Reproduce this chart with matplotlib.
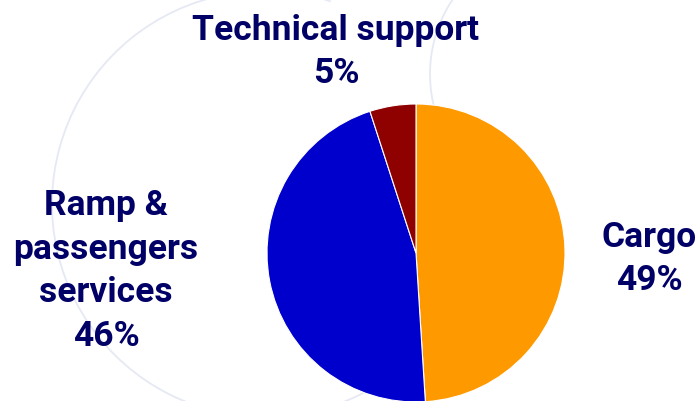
import matplotlib
matplotlib.use('Agg')
import matplotlib.pyplot as plt
from matplotlib import font_manager
from matplotlib.patches import Arc

# business split, share of revenue in percent
categories = ['Cargo', 'Ramp &\npassengers\nservices', 'Technical support']
shares = [49, 46, 5]
colors = ['#FF9900', '#0000CC', '#8F0000']

# bold face for the labels, whichever is installed
installed = {f.name for f in font_manager.fontManager.ttflist}
label_font, label_size = 'DejaVu Sans', 20
for name, size in [('Roboto', 25.5), ('Roboto Condensed', 28)]:
    if name in installed:
        label_font, label_size = name, size
        break

W, H = 698, 402
fig = plt.figure(figsize=(W / 100, H / 100), dpi=100)
ax = fig.add_axes([0, 0, 1, 1])

# faint decorative rings behind the pie
ring = dict(color='#E6E9F4', lw=1.3, zorder=0)
ax.add_patch(Arc((265, H - 205), 426, 426, theta1=72, theta2=300, **ring))
ax.add_patch(Arc((564, H - 75), 268, 268, theta1=140, theta2=200, **ring))

ax.pie(shares, colors=colors, startangle=90, counterclock=False,
       center=(416, H - 254), radius=149,
       wedgeprops=dict(edgecolor='white', linewidth=0.8))

ax.set_xlim(0, W)
ax.set_ylim(0, H)
ax.set_aspect('equal')
ax.axis('off')

label_xy = [(649, H - 259), (106, H - 271), (336, H - 52)]
for cat, val, (x, y) in zip(categories, shares, label_xy):
    ax.text(x, y, f'{cat}\n{val}%', ha='center', va='center',
            fontsize=label_size, fontweight='bold', color='#000066',
            family=label_font, linespacing=1.42)

fig.savefig('out.png', dpi=100)
